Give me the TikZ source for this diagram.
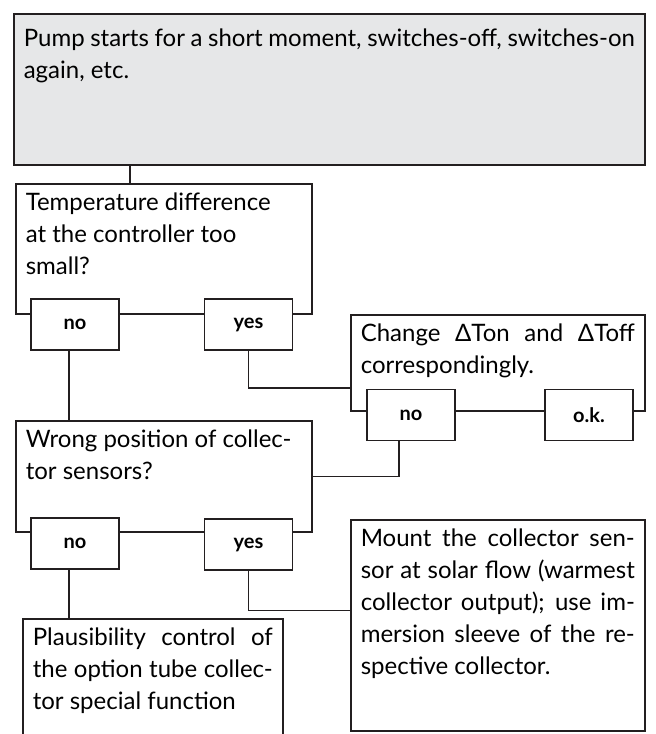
\documentclass[tikz,border=0pt]{standalone}
\usepackage{fontspec}
\setmainfont{Lato}
\usepackage{tikz}
\usetikzlibrary{positioning}

\definecolor{ink}{HTML}{231F20}
\definecolor{panelgray}{HTML}{E6E7E8}
\newcommand{\jline}[1]{\makebox[\linewidth][s]{#1}\\}

\begin{document}
\begin{tikzpicture}[x=1pt,y=-1pt,
        panel/.style={draw=ink,line width=1.6pt,fill=white,anchor=north west,
          inner xsep=10pt,inner ysep=9pt,font=\fontsize{24}{32}\selectfont},
        answer/.style={draw=ink,line width=1.6pt,fill=white,inner sep=0pt,
          minimum width=88pt,minimum height=51pt,font=\fontsize{20}{22}\selectfont\bfseries},
        link/.style={draw=ink,line width=1.6pt}]

        \useasboundingbox (0,0) rectangle (656,734);

        % question boxes
        \node[panel,fill=panelgray,inner ysep=15pt] (top) at (13,13)
          {\parbox[t][121pt][t]{611pt}{Pump starts for a short moment, switches-off, switches-on\\again, etc.}};
        \node[panel] (temp) at (15,183)
          {\parbox[t][112pt][t]{276pt}{Temperature difference\\at the controller too\\small?}};
        \node[panel] (change) at (350,314)
          {\parbox[t][78pt][t]{274pt}{\jline{Change ΔTon and ΔToff}correspondingly.}};
        \node[panel] (wrong) at (15,420)
          {\parbox[t][93pt][t]{276pt}{Wrong position of collec-\\tor sensors?}};
        \node[panel] (mount) at (350,519)
          {\parbox[t][193pt][t]{274pt}{\jline{Mount the collector sen-}\jline{sor at solar flow (warmest}\jline{collector output); use im-}\jline{mersion sleeve of the re-}spective collector.}};
        \node[panel] (plaus) at (22,618)
          {\parbox[t][112pt][t]{240pt}{\jline{Plausibility control of}\jline{the option tube collec-}tor special function}};

        % answers
        \node[answer] (tno)  at (75,324.5)  {no};
        \node[answer] (tyes) at (248.5,324.5) {yes};
        \node[answer] (cno)  at (411,415)   {no};
        \node[answer] (cok)  at (589,415)   {o.k.};
        \node[answer] (wno)  at (75,543.5)  {no};
        \node[answer] (wyes) at (248.5,544.5) {yes};

        \coordinate (tin) at ([xshift=115pt]temp.north west);
        \coordinate (tnoout) at ([xshift=-6pt]tno.south);
        \coordinate (cnoout) at ([xshift=-12pt]cno.south);
        \coordinate (wnoout) at ([xshift=-6pt]wno.south);

        \draw[link] (top.south -| tin) -- (tin);
        \draw[link] (tnoout) -- (tnoout |- wrong.north);
        \draw[link] (tyes.south) |- ([yshift=-25pt]change.west);
        \draw[link] (cnoout) |- (wrong.east);
        \draw[link] (wnoout) -- (wnoout |- plaus.north);
        \draw[link] (wyes.south) |- ([yshift=15pt]mount.west);
\end{tikzpicture}
\end{document}
